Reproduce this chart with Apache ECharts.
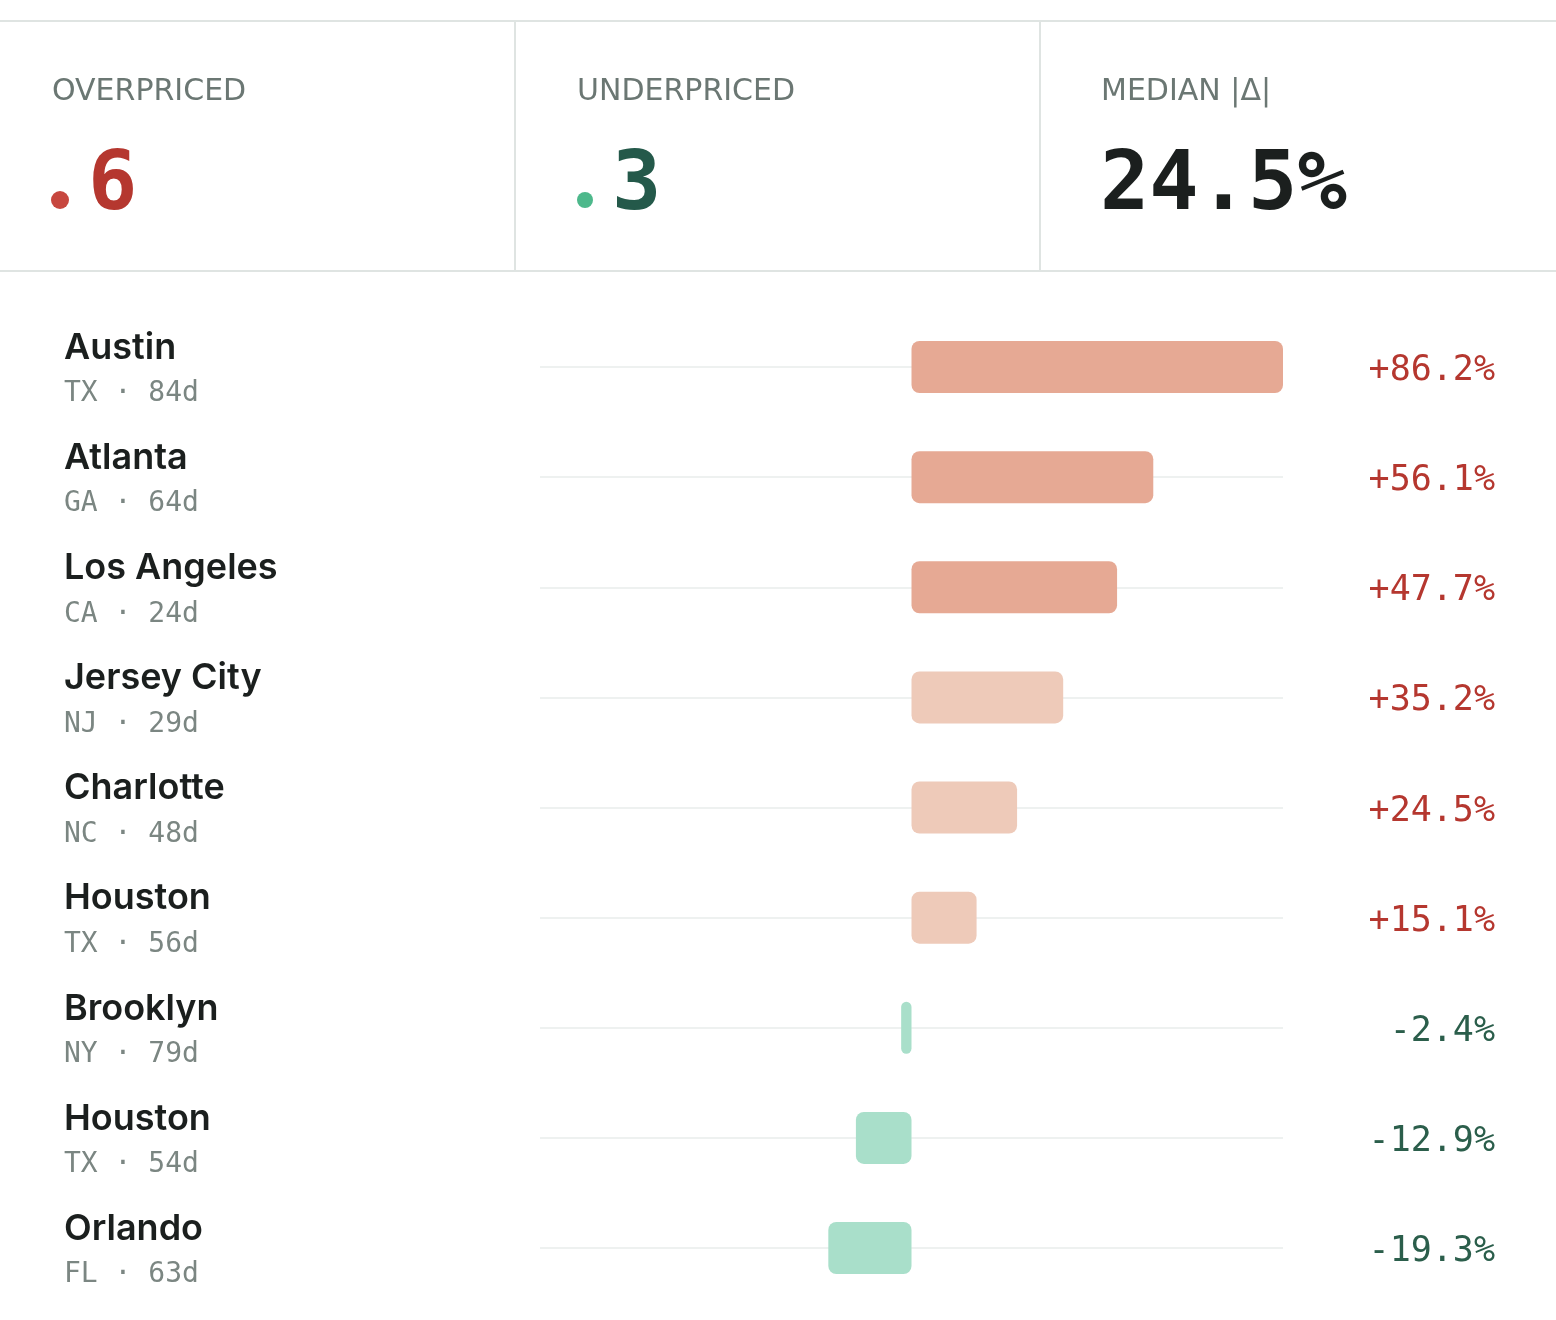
<!DOCTYPE html>
<html>
<head>
<meta charset="utf-8">
<script src="https://cdn.jsdelivr.net/npm/echarts@6/dist/echarts.min.js"></script>
<style>
html,body{margin:0;padding:0;background:#fff;}
#chart{width:1556px;height:1320px;}
</style>
</head>
<body>
<div id="chart"></div>
<script>
// ---- data ----
var cities = ['Austin', 'Atlanta', 'Los Angeles', 'Jersey City', 'Charlotte', 'Houston', 'Brooklyn', 'Houston', 'Orlando'];
var states = ['TX', 'GA', 'CA', 'NJ', 'NC', 'TX', 'NY', 'TX', 'FL'];
var days = [84, 64, 24, 29, 48, 56, 79, 54, 63];
var deltas = [86.2, 56.1, 47.7, 35.2, 24.5, 15.1, -2.4, -12.9, -19.3];
var kpiLabels = ['OVERPRICED', 'UNDERPRICED', 'MEDIAN |Δ|'];
var overCount = 6;
var underCount = 3;
var medianAbs = '24.5%';

var monoFont = '"DejaVu Sans Mono", "Liberation Mono", monospace';
var sansFont = 'Inter, "Noto Sans", sans-serif';
var labelFont = '"DejaVu Sans", Inter, sans-serif';

var absMax = Math.max.apply(null, deltas.map(function (d) { return Math.abs(d); }));
var idx = cities.map(function (c, i) { return String(i); });

function fmt(v) { return (v > 0 ? '+' : '') + v.toFixed(1) + '%'; }
function barColor(v) {
  if (v < 0) return '#a9dfca';
  return v >= 40 ? '#e6a994' : '#eecab9';
}

var chart = echarts.init(document.getElementById('chart'), null, {renderer: 'canvas'});
var lineColor = '#dfe4e2';

var option = {
  backgroundColor: '#ffffff',
  animation: false,
  grid: {left: 540, right: 273, top: 367, bottom: 72, containLabel: false},
  xAxis: {
    type: 'value', min: -absMax, max: absMax,
    show: false
  },
  yAxis: [{
    type: 'category', data: idx, inverse: true, boundaryGap: false,
    axisLine: {show: false}, axisTick: {show: false},
    splitLine: {show: true, lineStyle: {color: '#eef1f0', width: 2}},
    axisLabel: {
      align: 'left', margin: 476,
      formatter: function (v) {
        var i = +v;
        return '{name|' + cities[i] + '}\n{sub|' + states[i] + ' · ' + days[i] + 'd}';
      },
      rich: {
        name: {fontSize: 36, fontWeight: 600, color: '#1b1f1e', fontFamily: sansFont, lineHeight: 54, align: 'left'},
        sub: {fontSize: 28, color: '#7b8682', fontFamily: monoFont, lineHeight: 38, align: 'left'}
      }
    }
  }, {
    type: 'category', data: idx, inverse: true, boundaryGap: false, position: 'right',
    axisLine: {show: false}, axisTick: {show: false}, splitLine: {show: false},
    axisLabel: {
      align: 'right', margin: 212,
      formatter: function (v) {
        var d = deltas[+v];
        return '{' + (d < 0 ? 'neg' : 'pos') + '|' + fmt(d) + '}';
      },
      rich: {
        pos: {fontFamily: monoFont, fontSize: 35, color: '#b5372f', padding: [8, 0, 0, 0]},
        neg: {fontFamily: monoFont, fontSize: 35, color: '#2b5e4b', padding: [8, 0, 0, 0]}
      }
    }
  }],
  series: [{
    type: 'bar',
    yAxisIndex: 0,
    barWidth: 52,
    clip: false,
    data: deltas,
    itemStyle: {
      borderRadius: 8,
      color: function (p) { return barColor(p.value); }
    }
  }],
  graphic: [
    {type: 'line', shape: {x1: 0, y1: 21, x2: 1556, y2: 21}, style: {stroke: lineColor, lineWidth: 2}},
    {type: 'line', shape: {x1: 0, y1: 271, x2: 1556, y2: 271}, style: {stroke: lineColor, lineWidth: 2}},
    {type: 'line', shape: {x1: 515, y1: 21, x2: 515, y2: 271}, style: {stroke: lineColor, lineWidth: 2}},
    {type: 'line', shape: {x1: 1040, y1: 21, x2: 1040, y2: 271}, style: {stroke: lineColor, lineWidth: 2}},
    {type: 'text', left: 52, top: 77, style: {text: kpiLabels[0], fontSize: 30, fill: '#6b7773', fontFamily: labelFont}},
    {type: 'text', left: 577, top: 77, style: {text: kpiLabels[1], fontSize: 30, fill: '#6b7773', fontFamily: labelFont}},
    {type: 'text', left: 1101, top: 77, style: {text: kpiLabels[2], fontSize: 30, fill: '#6b7773', fontFamily: labelFont}},
    {type: 'circle', shape: {cx: 60, cy: 200, r: 9}, style: {fill: '#c7473f'}},
    {type: 'text', left: 88, top: 147, style: {text: String(overCount), fontSize: 82, fontWeight: 'bold', fill: '#b5372f', fontFamily: monoFont}},
    {type: 'circle', shape: {cx: 585, cy: 200, r: 8}, style: {fill: '#4db88b'}},
    {type: 'text', left: 612, top: 147, style: {text: String(underCount), fontSize: 82, fontWeight: 'bold', fill: '#24594a', fontFamily: monoFont}},
    {type: 'text', left: 1100, top: 147, style: {text: medianAbs, fontSize: 82, fontWeight: 'bold', fill: '#1b1f1e', fontFamily: monoFont}}
  ]
};
chart.setOption(option);
</script>
</body>
</html>
